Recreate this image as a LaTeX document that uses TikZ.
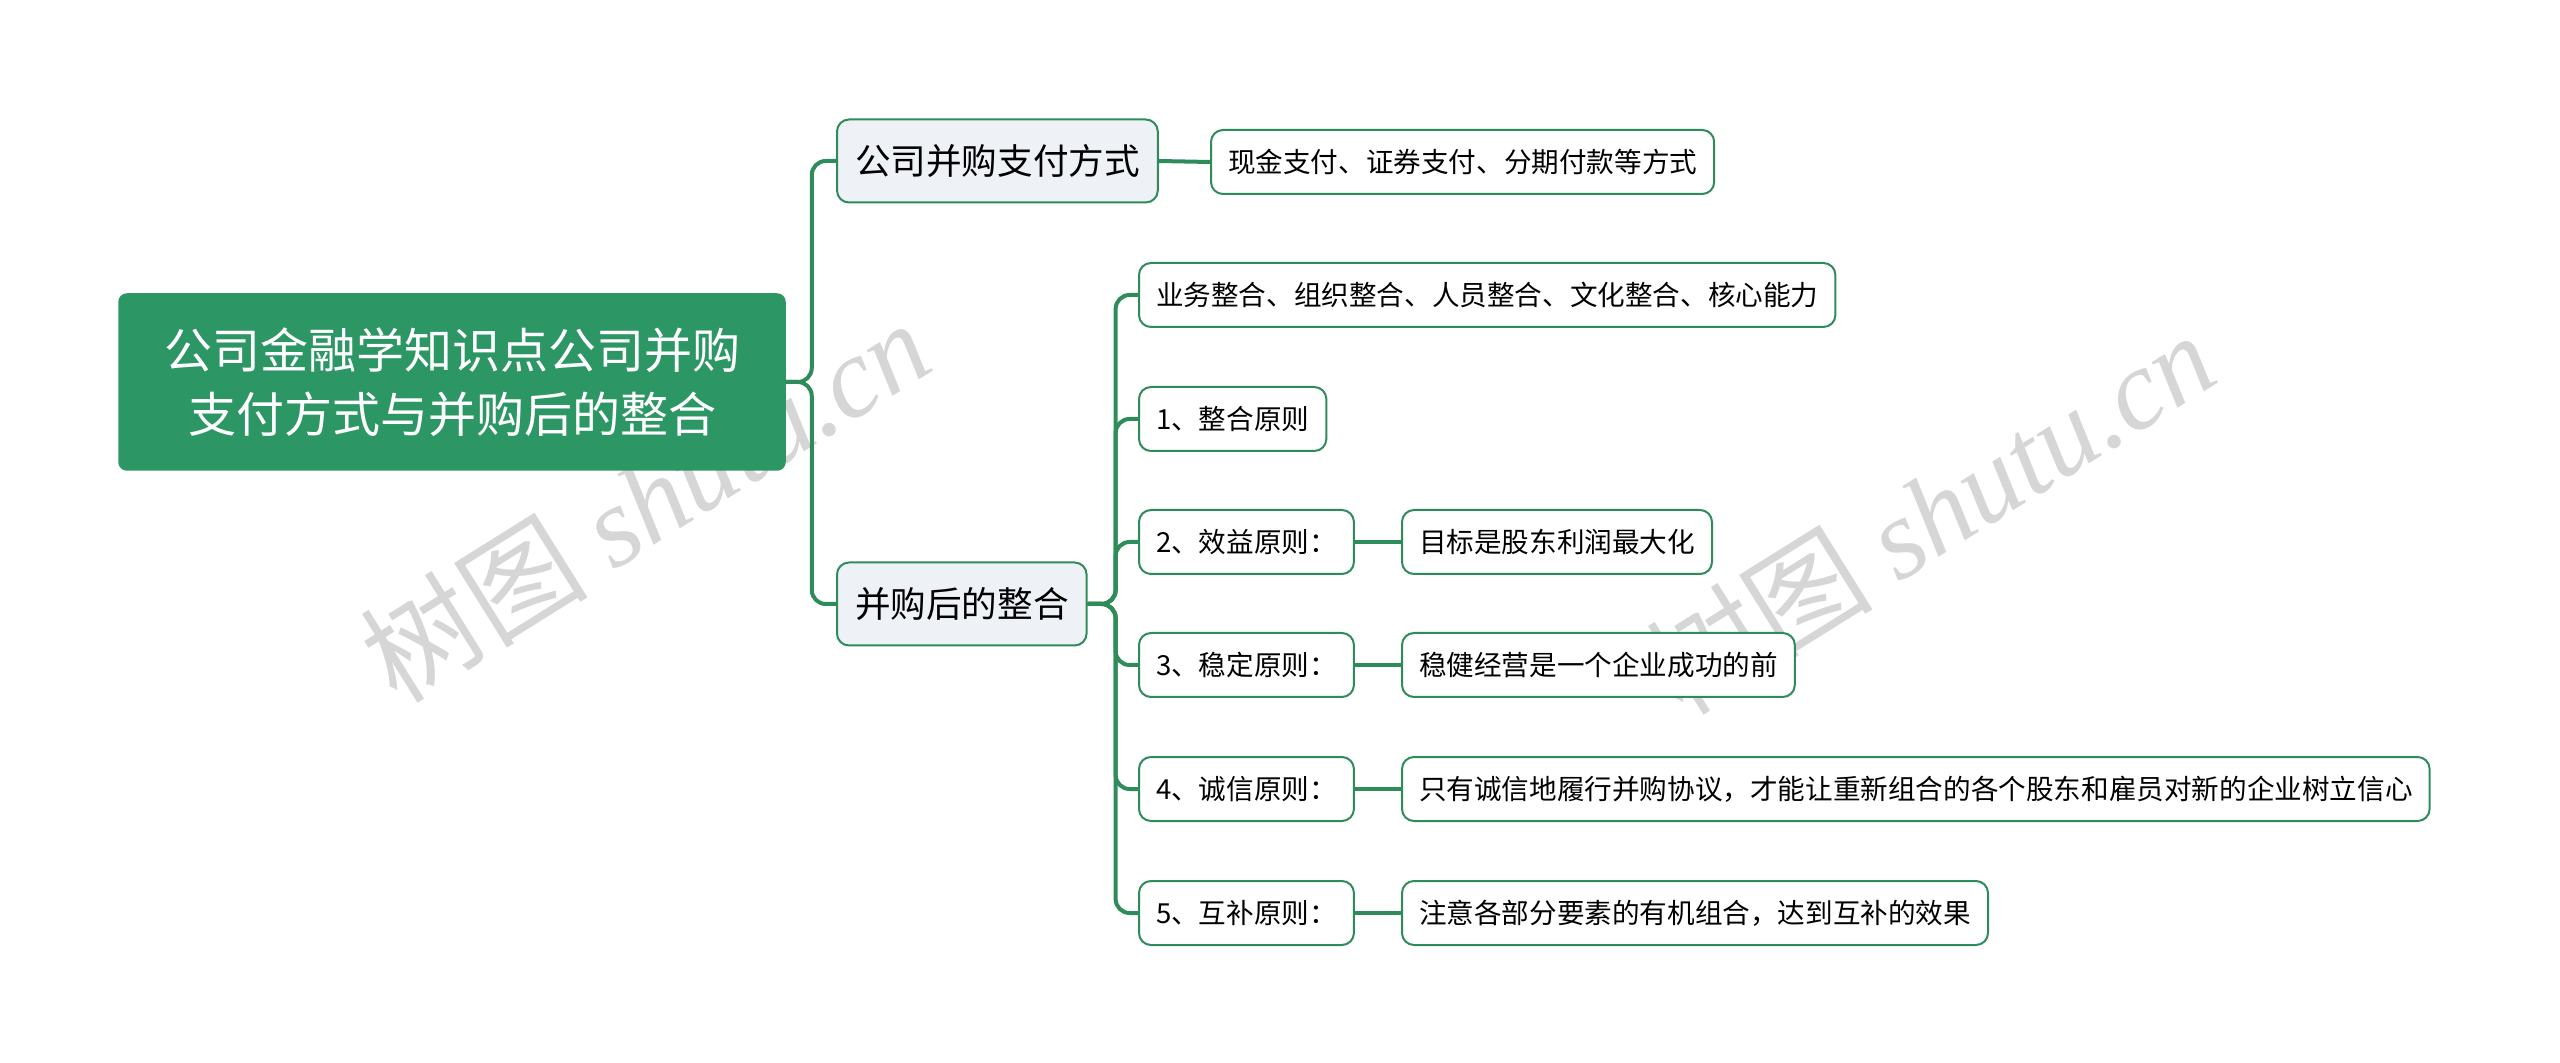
\documentclass[tikz,border=0pt]{standalone}
\usepackage{fontspec}
\setmainfont{Noto Sans CJK SC}
\newfontfamily\wmserif{Liberation Serif}

\definecolor{mapgreen}{RGB}{44,150,100}
\definecolor{linegreen}{RGB}{46,139,90}
\definecolor{subfill}{RGB}{238,242,246}
\definecolor{wmgray}{RGB}{214,214,214}

\tikzset{every picture/.style={line width=0.75pt}}
\tikzset{
  rootbox/.style={draw=mapgreen, fill=mapgreen, rounded corners=4pt, text=white,
    font=\fontsize{24}{32}\selectfont, align=center,
    minimum width=333pt, minimum height=88pt, inner sep=0pt},
  subbox/.style={draw=linegreen, fill=subfill, line width=1pt, rounded corners=6pt,
    font=\fontsize{17.8}{21}\selectfont, minimum height=41.5pt, inner xsep=9pt, anchor=west},
  leafbox/.style={draw=linegreen, fill=white, line width=1pt, rounded corners=6pt,
    font=\fontsize{13.8}{17}\selectfont, minimum height=32pt, inner xsep=8.5pt, anchor=west},
  link/.style={draw=linegreen, line width=2pt, rounded corners=7pt},
  wmtext/.style={text=wmgray, rotate=32, font=\fontsize{57}{57}\selectfont}
}

\begin{document}
\begin{tikzpicture}[x=0.5pt,y=0.5pt,yscale=-1,xscale=1]
\useasboundingbox (0,0) rectangle (2560,1063);

% Watermark
\node[wmtext] (wmleft) at (645,500) {树图 {\wmserif\itshape shutu.cn}};
\node[wmtext] (wmright) at (1930,512) {树图 {\wmserif\itshape shutu.cn}};

% Root
\node[rootbox] (root) at (452,382) {公司金融学知识点公司并购\\支付方式与并购后的整合};

% Level 1
\node[subbox] (pay) at (836,161) {公司并购支付方式};
\node[subbox] (integ) at (836,604) {并购后的整合};

% Payment branch
\node[leafbox] (cash) at (1210,162) {现金支付、证券支付、分期付款等方式};

% Integration branch
\node[leafbox] (biz) at (1138,295) {业务整合、组织整合、人员整合、文化整合、核心能力};
\node[leafbox] (p1) at (1138,419) {1、整合原则};
\node[leafbox] (p2) at (1138,542) {2、效益原则：};
\node[leafbox] (p3) at (1138,665) {3、稳定原则：};
\node[leafbox] (p4) at (1138,789) {4、诚信原则：};
\node[leafbox] (p5) at (1138,913) {5、互补原则：};

\node[leafbox] (t2) at (1401,542) {目标是股东利润最大化};
\node[leafbox] (t3) at (1401,665) {稳健经营是一个企业成功的前};
\node[leafbox] (t4) at (1401,789) {只有诚信地履行并购协议，才能让重新组合的各个股东和雇员对新的企业树立信心};
\node[leafbox] (t5) at (1401,913) {注意各部分要素的有机组合，达到互补的效果};

% Connectors
\draw[link] (root.east) -- ++(26,0) |- (pay.west);
\draw[link] (root.east) -- ++(26,0) |- (integ.west);
\draw[link] (pay.east) -- (cash.west);

\draw[link] (integ.east) -- ++(28,0) |- (biz.west);
\draw[link] (integ.east) -- ++(28,0) |- (p1.west);
\draw[link] (integ.east) -- ++(28,0) |- (p2.west);
\draw[link] (integ.east) -- ++(28,0) |- (p3.west);
\draw[link] (integ.east) -- ++(28,0) |- (p4.west);
\draw[link] (integ.east) -- ++(28,0) |- (p5.west);

\draw[link] (p2.east) -- (t2.west);
\draw[link] (p3.east) -- (t3.west);
\draw[link] (p4.east) -- (t4.west);
\draw[link] (p5.east) -- (t5.west);

\end{tikzpicture}
\end{document}
